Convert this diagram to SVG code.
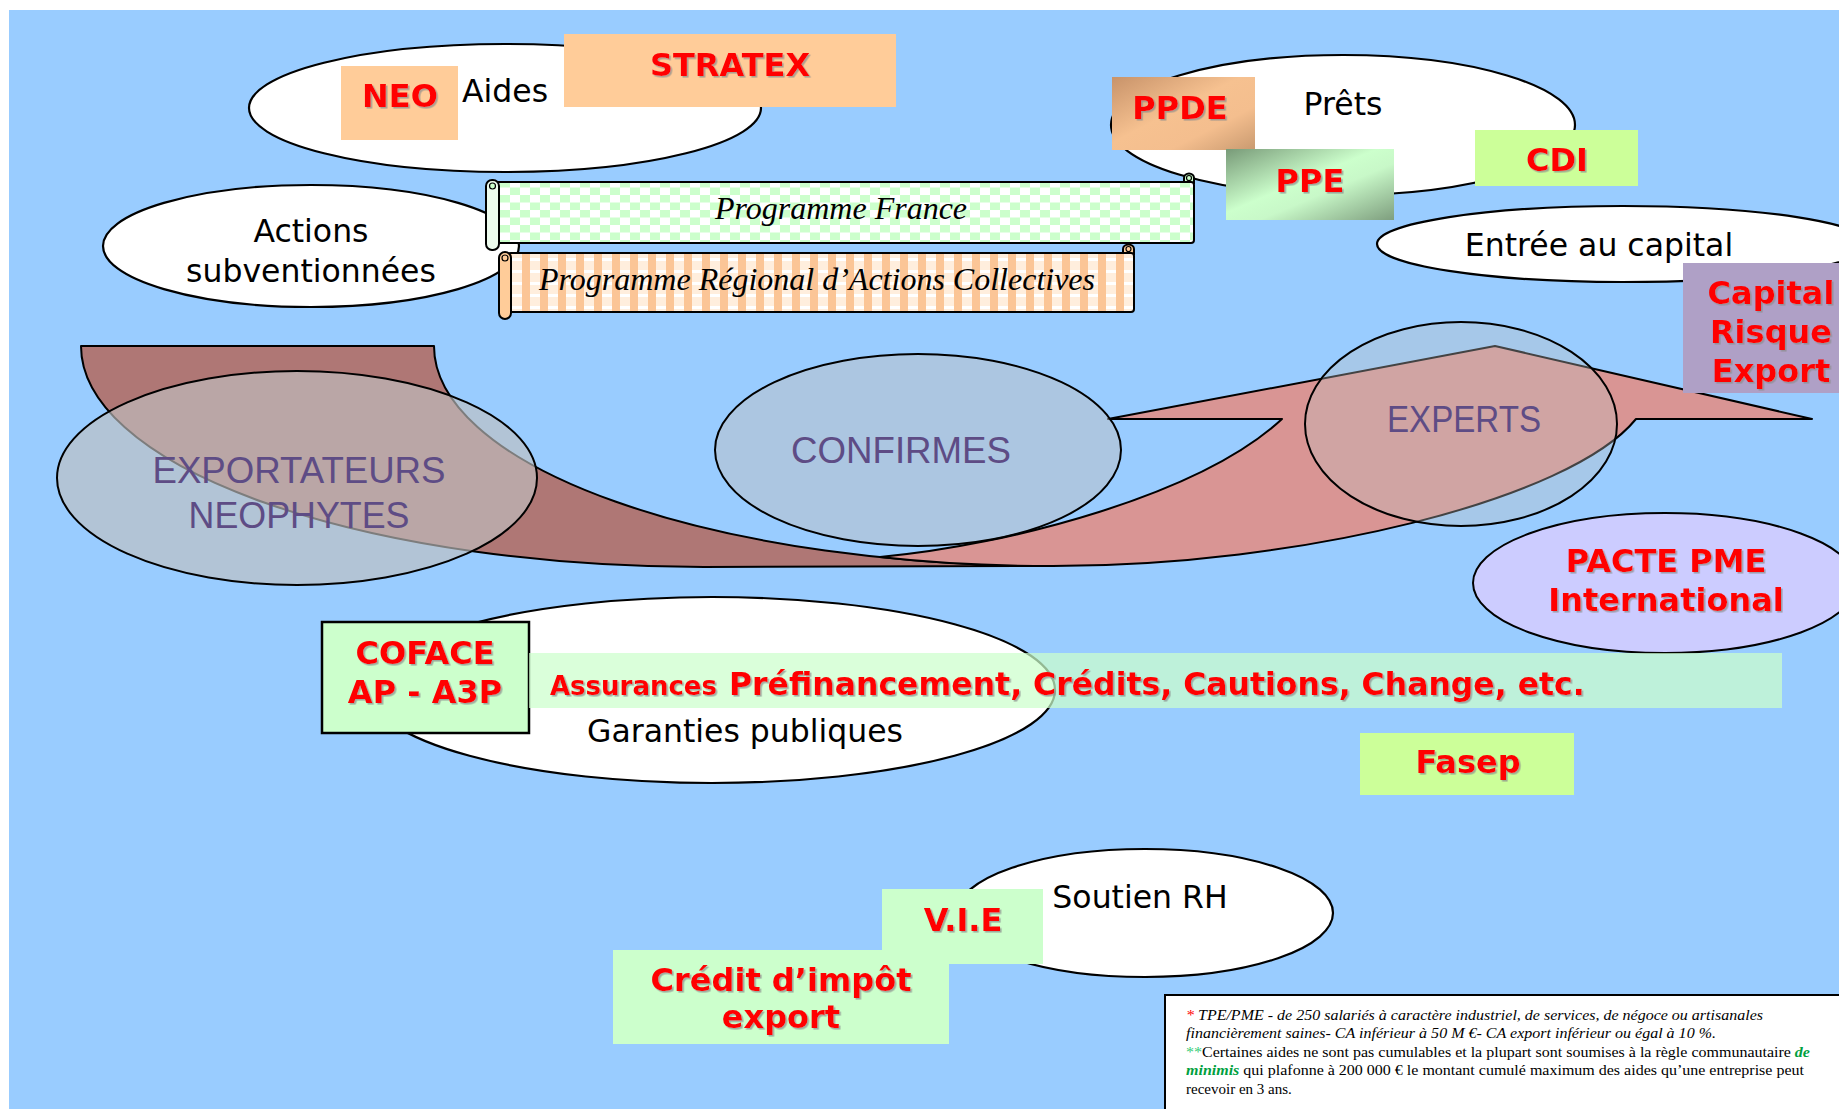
<svg xmlns="http://www.w3.org/2000/svg" width="1839" height="1109" viewBox="0 0 1839 1109">
<style>
.el{fill:#fff;stroke:#000;stroke-width:2.2}
.lbl{font-family:"DejaVu Sans",Verdana,sans-serif;font-size:31.5px;fill:#000;text-anchor:middle}
.red{font-family:"DejaVu Sans",Verdana,sans-serif;font-weight:bold;font-size:32px;fill:#FF0000;text-anchor:middle;filter:url(#sh)}
.pur{font-family:"Liberation Sans",Arial,sans-serif;font-size:36px;fill:#5E4C85;text-anchor:middle}
.scr{font-family:"Liberation Serif","Times New Roman",serif;font-style:italic;font-size:32px;fill:#000;text-anchor:middle}
.fn{font-family:"Liberation Serif","Times New Roman",serif;font-size:15px;fill:#000}
.stk{stroke:#000;stroke-width:2}
</style>
<defs>
<filter id="sh" x="-10%" y="-20%" width="130%" height="150%">
<feDropShadow dx="1.6" dy="1.6" stdDeviation="0.4" flood-color="#8a8a8a" flood-opacity="0.7"/>
</filter>
<pattern id="chkG" width="20" height="15" patternUnits="userSpaceOnUse">
<rect width="20" height="15" fill="#ffffff"/>
<rect width="10" height="7.5" fill="#CCFFCC"/>
<rect x="10" y="7.5" width="10" height="7.5" fill="#CCFFCC"/>
</pattern>
<pattern id="chkO" width="18" height="12" patternUnits="userSpaceOnUse">
<rect width="18" height="12" fill="#FFEEDD"/>
<rect width="8" height="12" fill="#FBC596"/>
<rect x="8" y="6" width="10" height="3" fill="#ffffff"/>
</pattern>
<linearGradient id="gPPDE" x1="0" y1="0" x2="1" y2="1">
<stop offset="0" stop-color="#C8936A"/>
<stop offset="0.45" stop-color="#F6C190"/>
<stop offset="0.7" stop-color="#F4BE8E"/>
<stop offset="1" stop-color="#C99A70"/>
</linearGradient>
<linearGradient id="gPPE" x1="0" y1="0" x2="1" y2="1">
<stop offset="0" stop-color="#789A78"/>
<stop offset="0.45" stop-color="#CCFFCC"/>
<stop offset="0.6" stop-color="#C8F8C8"/>
<stop offset="1" stop-color="#7E9E7E"/>
</linearGradient>
</defs>

<rect x="0" y="0" width="1839" height="1109" fill="#ffffff"/>
<rect x="9" y="10" width="1830" height="1099" fill="#99CCFF"/>

<g id="aides">
<ellipse class="el" cx="505" cy="108" rx="256" ry="64"/>
<text class="lbl" x="505" y="102">Aides</text>
</g>
<g id="actions-subventionnees">
<ellipse class="el" cx="311" cy="246" rx="208" ry="61"/>
<text class="lbl" x="311" y="242">Actions</text>
<text class="lbl" x="311" y="282">subventionnées</text>
</g>
<g id="prets">
<ellipse class="el" cx="1343" cy="125" rx="232" ry="70"/>
<text class="lbl" x="1343" y="115">Prêts</text>
</g>
<g id="entree-capital">
<ellipse class="el" cx="1623" cy="244" rx="246" ry="38"/>
<text class="lbl" x="1599" y="256">Entrée au capital</text>
</g>

<g id="programme-france">
<path d="M1184,183 V178 A5,4.5 0 0 1 1194,178 V183 Z" fill="#CCFFCC" class="stk"/>
<circle cx="1189" cy="178" r="2.5" fill="#CCFFCC" stroke="#000" stroke-width="1.2"/>
<rect x="495" y="182" width="699" height="61" rx="3" fill="url(#chkG)" class="stk"/>
<rect x="486" y="180" width="13" height="70" rx="6" fill="#EEFCEE" class="stk"/>
<circle cx="492.5" cy="186" r="3" fill="#CCFFCC" stroke="#000" stroke-width="1.2"/>
<text class="scr" x="841" y="219">Programme France</text>
</g>
<g id="programme-regional">
<path d="M1123,254 V249 A5.5,4.5 0 0 1 1134,249 V254 Z" fill="#FFCC99" class="stk"/>
<circle cx="1128.5" cy="249" r="2.5" fill="#FFCC99" stroke="#000" stroke-width="1.2"/>
<rect x="508" y="253" width="626" height="59" rx="3" fill="url(#chkO)" class="stk"/>
<rect x="499" y="252" width="12" height="67" rx="6" fill="#FFCC99" class="stk"/>
<circle cx="505" cy="258" r="3" fill="#FFCC99" stroke="#000" stroke-width="1.2"/>
<text class="scr" x="817" y="290">Programme Régional d’Actions Collectives</text>
</g>

<g id="neo">
<rect x="341" y="66" width="117" height="74" fill="#FFCC99"/>
<text class="red" x="400" y="107">NEO</text>
</g>
<g id="stratex">
<rect x="564" y="34" width="332" height="73" fill="#FFCC99"/>
<text class="red" x="730" y="76">STRATEX</text>
</g>
<g id="ppde">
<rect x="1112" y="77" width="143" height="73" fill="url(#gPPDE)"/>
<text class="red" x="1180" y="119">PPDE</text>
</g>
<g id="ppe">
<rect x="1226" y="149" width="168" height="71" fill="url(#gPPE)"/>
<text class="red" x="1310" y="192">PPE</text>
</g>
<g id="cdi">
<rect x="1475" y="130" width="163" height="56" fill="#CCFF99"/>
<text class="red" x="1557" y="171">CDI</text>
</g>

<g id="connectors">
<path d="M81,346 L434,346 A619,220 0 0 0 1053,566 L704,567 A623,221 0 0 1 81,346 Z" fill="#AF7775" class="stk" stroke-linejoin="round"/>
<path d="M880,557 C1010,545 1200,495 1282,419 L1108,419 L1495,346 L1812,419 L1636,419 C1570,500 1300,566 1053,566 Q960,566 880,557 Z" fill="#D99594" class="stk" stroke-linejoin="round"/>
</g>

<g id="exportateurs-neophytes">
<ellipse cx="297" cy="478" rx="240" ry="107" fill="#C0C0C0" fill-opacity="0.65" class="stk"/>
<text class="pur" x="299" y="483" textLength="293" lengthAdjust="spacingAndGlyphs">EXPORTATEURS</text>
<text class="pur" x="299" y="528" textLength="221" lengthAdjust="spacingAndGlyphs">NEOPHYTES</text>
</g>
<g id="confirmes">
<ellipse cx="918" cy="450" rx="203" ry="96" fill="#C0C0C0" fill-opacity="0.48" class="stk"/>
<text class="pur" x="901" y="463" textLength="220" lengthAdjust="spacingAndGlyphs">CONFIRMES</text>
</g>
<g id="experts">
<ellipse cx="1461" cy="424" rx="156" ry="102" fill="#C0C0C0" fill-opacity="0.35" class="stk"/>
<text class="pur" x="1464" y="432" textLength="154" lengthAdjust="spacingAndGlyphs">EXPERTS</text>
</g>

<g id="capital-risque-export">
<rect x="1683" y="263" width="160" height="130" fill="#AFA0C6"/>
<text class="red" x="1771" y="304">Capital</text>
<text class="red" x="1771" y="343">Risque</text>
<text class="red" x="1771" y="382">Export</text>
</g>
<g id="pacte-pme">
<ellipse cx="1665" cy="583" rx="192" ry="70" fill="#CCCCFF" class="stk"/>
<text class="red" x="1666" y="572">PACTE PME</text>
<text class="red" x="1666" y="611">International</text>
</g>

<g id="garanties-publiques">
<ellipse class="el" cx="712" cy="690" rx="343" ry="93"/>
<text class="lbl" x="745" y="742">Garanties publiques</text>
</g>
<g id="coface">
<rect x="322" y="622" width="207" height="111" fill="#CCFFCC" stroke="#000" stroke-width="2.5"/>
<text class="red" x="425" y="664">COFACE</text>
<text class="red" x="425" y="703">AP - A3P</text>
</g>
<g id="assurances">
<rect x="529" y="653" width="1253" height="55" fill="#CCFFCC" fill-opacity="0.72"/>
<text class="red" x="550" y="695" style="text-anchor:start;font-size:26px">Assurances</text>
<text class="red" x="729" y="695" style="text-anchor:start;font-size:31.5px">Préfinancement, Crédits, Cautions, Change, etc.</text>
</g>
<g id="fasep">
<rect x="1360" y="733" width="214" height="62" fill="#CCFF99"/>
<text class="red" x="1468" y="773">Fasep</text>
</g>

<g id="soutien-rh">
<ellipse class="el" cx="1145" cy="913" rx="188" ry="64"/>
<text class="lbl" x="1140" y="908">Soutien RH</text>
</g>
<g id="credit-impot">
<rect x="613" y="950" width="336" height="94" fill="#CCFFCC"/>
<text class="red" x="781" y="991">Crédit d’impôt</text>
<text class="red" x="781" y="1028">export</text>
</g>
<g id="vie">
<rect x="882" y="889" width="161" height="75" fill="#CCFFCC"/>
<text class="red" x="963" y="931">V.I.E</text>
</g>

<g id="footnote">
<rect x="1165" y="995" width="690" height="130" fill="#ffffff" stroke="#000" stroke-width="2"/>
<text class="fn" x="1186" y="1020" font-style="italic" textLength="577" lengthAdjust="spacingAndGlyphs"><tspan fill="#FF0000">*</tspan> TPE/PME - de 250 salariés à caractère industriel, de services, de négoce ou artisanales</text>
<text class="fn" x="1186" y="1038" font-style="italic" textLength="530" lengthAdjust="spacingAndGlyphs">financièrement saines- CA inférieur à 50 M €- CA export inférieur ou égal à 10 %.</text>
<text class="fn" x="1186" y="1057" textLength="624" lengthAdjust="spacingAndGlyphs"><tspan fill="#33CC77">**</tspan>Certaines aides ne sont pas cumulables et la plupart sont soumises à la règle communautaire <tspan fill="#00A040" font-style="italic" font-weight="bold">de</tspan></text>
<text class="fn" x="1186" y="1075" textLength="618" lengthAdjust="spacingAndGlyphs"><tspan fill="#00A040" font-style="italic" font-weight="bold">minimis</tspan>   qui plafonne à 200 000 € le montant cumulé maximum des aides qu’une entreprise peut</text>
<text class="fn" x="1186" y="1094">recevoir en 3 ans.</text>
</g>
</svg>
